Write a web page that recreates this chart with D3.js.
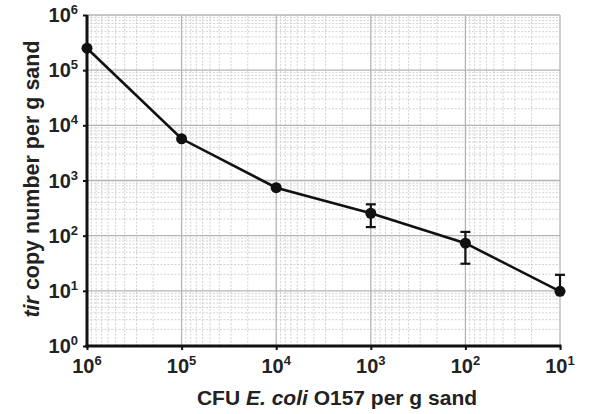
<!DOCTYPE html>
<html><head><meta charset="utf-8">
<script src="https://cdn.jsdelivr.net/npm/d3@7"></script>
<style>body{margin:0;background:#fff}svg{display:block;font-family:"Liberation Sans",Arial,sans-serif}</style>
</head><body><svg id="c" width="609" height="414"></svg>
<script>
const cfu = [1e6, 1e5, 1e4, 1e3, 1e2, 1e1];
const copies = [250000, 5700, 740, 255, 73, 9.8];
const errLow = [250000, 5700, 740, 143, 31, 9.8];
const errHigh = [250000, 5700, 740, 370, 117, 19.5];
const xTickExp = [6, 5, 4, 3, 2, 1];
const yTickExp = [0, 1, 2, 3, 4, 5, 6];

const svg = d3.select("#c");
const L = 87, R = 560, T = 15, B = 346;
const x = d3.scaleLog().domain([1e6, 1e1]).range([L, R]);
const y = d3.scaleLog().domain([1, 1e6]).range([B, T]);

const g = svg.append("g");
const minorX = [], minorY = [];
for (let e = 1; e < 6; e++) for (let m = 2; m <= 9; m++) minorX.push(m * Math.pow(10, e));
for (let e = 0; e < 6; e++) for (let m = 2; m <= 9; m++) minorY.push(m * Math.pow(10, e));
g.selectAll(".mx").data(minorX).join("line").attr("x1", d => x(d)).attr("x2", d => x(d))
  .attr("y1", T).attr("y2", B).attr("stroke", "#c8c8c8").attr("stroke-width", 0.8).attr("stroke-dasharray", "2,1.5");
g.selectAll(".my").data(minorY).join("line").attr("y1", d => y(d)).attr("y2", d => y(d))
  .attr("x1", L).attr("x2", R).attr("stroke", "#c8c8c8").attr("stroke-width", 0.8).attr("stroke-dasharray", "2,1.5");
g.selectAll(".Mx").data(xTickExp).join("line").attr("x1", d => x(Math.pow(10, d))).attr("x2", d => x(Math.pow(10, d)))
  .attr("y1", T).attr("y2", B).attr("stroke", "#b4b4b4").attr("stroke-width", 1.3);
g.selectAll(".My").data(yTickExp).join("line").attr("y1", d => y(Math.pow(10, d))).attr("y2", d => y(Math.pow(10, d)))
  .attr("x1", L).attr("x2", R).attr("stroke", "#b4b4b4").attr("stroke-width", 1.3);

const xAxis = d3.axisBottom(x).tickValues(xTickExp.map(e => Math.pow(10, e))).tickSize(4).tickFormat("");
const yAxis = d3.axisLeft(y).tickValues(yTickExp.map(e => Math.pow(10, e))).tickSize(4).tickFormat("");
const xa = svg.append("g").attr("transform", `translate(0,${B})`).call(xAxis);
const ya = svg.append("g").attr("transform", `translate(${L},0)`).call(yAxis);
[xa, ya].forEach(a => {
  a.select(".domain").attr("stroke", "#111").attr("stroke-width", 3);
  a.selectAll(".tick line").attr("stroke", "#111").attr("stroke-width", 2);
});
xa.select(".domain").attr("d", `M${L - 1.5},0H${R + 1.5}`);
ya.select(".domain").attr("d", `M0,${T}V${B + 1.5}`);

const xl = svg.append("g").selectAll("text").data(xTickExp).join("text")
  .attr("x", d => x(Math.pow(10, d))).attr("y", 373).attr("text-anchor", "middle")
  .attr("font-size", 20).attr("font-weight", "bold").attr("fill", "#222");
xl.append("tspan").text("10");
xl.append("tspan").attr("dy", -8).attr("font-size", 13).text(d => d);

const yl = svg.append("g").selectAll("text").data(yTickExp).join("text")
  .attr("x", 78).attr("y", d => y(Math.pow(10, d)) + 7).attr("text-anchor", "end")
  .attr("font-size", 20).attr("font-weight", "bold").attr("fill", "#222");
yl.append("tspan").text("10");
yl.append("tspan").attr("dy", -8).attr("font-size", 13).text(d => d);

const xt = svg.append("text").attr("x", 337).attr("y", 405).attr("text-anchor", "middle")
  .attr("font-size", 21).attr("font-weight", "bold").attr("fill", "#222");
xt.append("tspan").text("CFU ");
xt.append("tspan").attr("font-style", "italic").text("E. coli");
xt.append("tspan").text(" O157 per g sand");

const yt = svg.append("text").attr("transform", "translate(39,179) rotate(-90)").attr("text-anchor", "middle")
  .attr("font-size", 21.5).attr("font-weight", "bold").attr("fill", "#222");
yt.append("tspan").attr("font-style", "italic").text("tir");
yt.append("tspan").text(" copy number per g sand");

const pts = cfu.map((c, i) => ({c, v: copies[i], lo: errLow[i], hi: errHigh[i]}));
svg.append("path").datum(pts).attr("fill", "none").attr("stroke", "#111").attr("stroke-width", 2.6)
  .attr("d", d3.line().x(d => x(d.c)).y(d => y(d.v)));
const eb = svg.append("g").selectAll("g").data(pts.filter(d => d.hi > d.v)).join("g").attr("stroke", "#111").attr("stroke-width", 2.2);
eb.append("line").attr("x1", d => x(d.c)).attr("x2", d => x(d.c)).attr("y1", d => y(d.hi)).attr("y2", d => y(d.lo));
eb.append("line").attr("x1", d => x(d.c) - 5).attr("x2", d => x(d.c) + 5).attr("y1", d => y(d.hi)).attr("y2", d => y(d.hi));
eb.filter(d => d.lo < d.v).append("line").attr("x1", d => x(d.c) - 5).attr("x2", d => x(d.c) + 5).attr("y1", d => y(d.lo)).attr("y2", d => y(d.lo));
svg.append("g").selectAll("circle").data(pts).join("circle")
  .attr("cx", d => x(d.c)).attr("cy", d => y(d.v)).attr("r", 5.5).attr("fill", "#111");
</script></body></html>
